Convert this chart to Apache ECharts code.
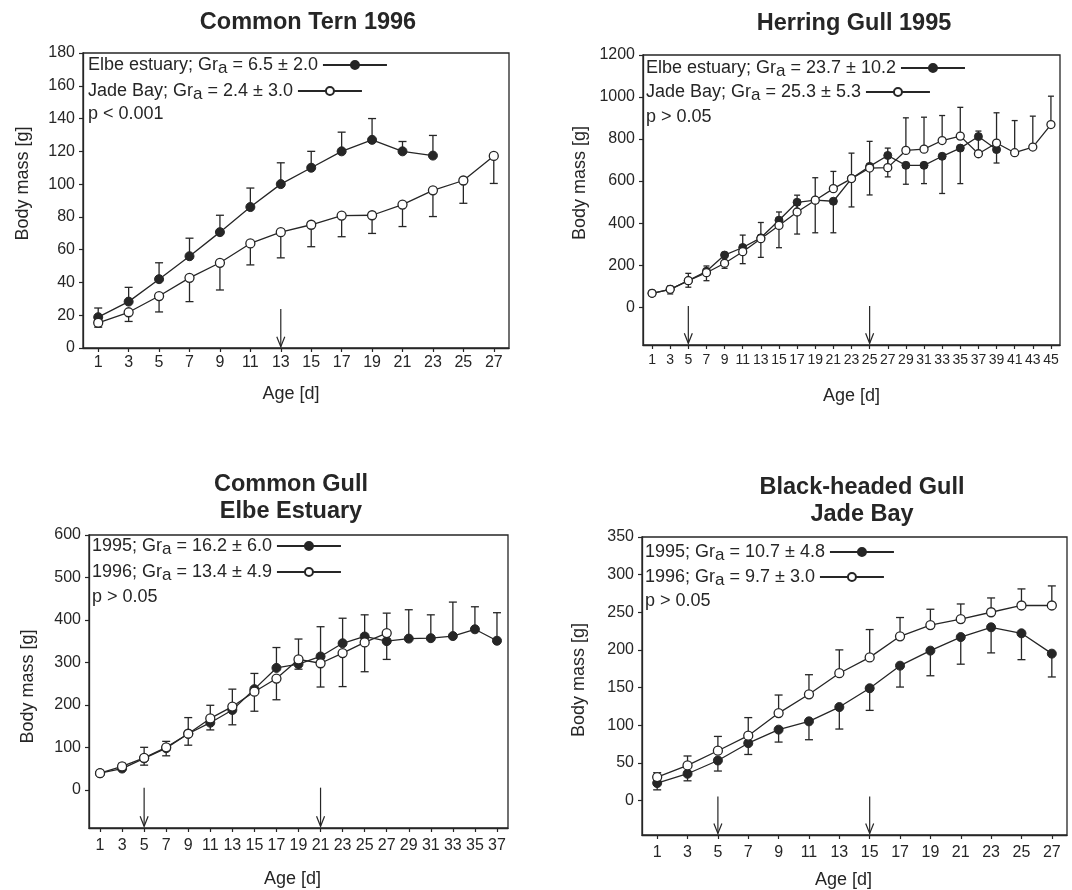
<!DOCTYPE html>
<html><head><meta charset="utf-8">
<script src="https://cdn.jsdelivr.net/npm/echarts@6/dist/echarts.min.js"></script>
<style>html,body{margin:0;padding:0;background:#fff}#c{width:1072px;height:890px}</style>
</head><body><div id="c"></div>
<script>
// ---------------- DATA ----------------
// Panel 1: Common Tern 1996
const ternTitle = 'Common Tern 1996';
const ternTicks = [1,3,5,7,9,11,13,15,17,19,21,23,25,27];
const ternYTicks = [0,20,40,60,80,100,120,140,160,180];
const ternElbeDays = [1,3,5,7,9,11,13,15,17,19,21,23];
const ternElbe   = [18.8,28.3,42,56,70.7,86,100,110,120,127,120,117.4];
const ternElbeHi = [24.4,37,52,67,81,97.6,113,120,131.7,140,126,129.7];
const ternJadeDays = [1,3,5,7,9,11,13,15,17,19,21,23,25,27];
const ternJade   = [15.4,21.8,31.7,42.8,52,63.8,70.7,75.2,80.8,81,87.5,96.2,102.2,117.2];
const ternJadeLo = [12.7,16.2,22,28.3,35.4,50.7,55,61.8,67.9,69.9,74.1,80.2,88.3,100.4];
const ternArrowDays = [13];
const ternArrowFrom = [23.8];
const ternArrowTo = [0.8];
const ternLegend = [['Elbe estuary; Gr', 'a', ' = 6.5 ± 2.0'], ['Jade Bay; Gr', 'a', ' = 2.4 ± 3.0']];
const ternP = 'p < 0.001';

// Panel 2: Herring Gull 1995
const herrTitle = 'Herring Gull 1995';
const herrTicks = [1,3,5,7,9,11,13,15,17,19,21,23,25,27,29,31,33,35,37,39,41,43,45];
const herrYTicks = [0,200,400,600,800,1000,1200];
const herrElbeDays = [1,3,5,7,9,11,13,15,17,19,21,23,25,27,29,31,33,35,37,39];
const herrElbe   = [66,85,126,171,248,284,330,414,499,509,504,612,670,722,675,675,718,757,812,750];
const herrElbeLo = [null,63,95,126,185,207,237,283,348,354,354,477,534,620,585,588,541,588,null,686];
const herrJadeDays = [1,3,5,7,9,11,13,15,17,19,21,23,25,27,29,31,33,35,37,39,41,43,45];
const herrJade   = [66,85,126,164,209,264,326,389,453,509,564,612,662,664,746,752,793,814,730,781,735,762,869];
const herrJadeHi = [null,101,161,196,null,343,403,453,533,616,646,733,789,757,901,904,912,951,838,925,888,909,1004];
const herrArrowDays = [5,25];
const herrArrowFrom = [6,6];
const herrArrowTo = [-172,-172];
const herrLegend = [['Elbe estuary; Gr', 'a', ' = 23.7 ± 10.2'], ['Jade Bay; Gr', 'a', ' = 25.3 ± 5.3']];
const herrP = 'p > 0.05';

// Panel 3: Common Gull, Elbe Estuary
const cgTitle = 'Common Gull\nElbe Estuary';
const cgTicks = [1,3,5,7,9,11,13,15,17,19,21,23,25,27,29,31,33,35,37];
const cgYTicks = [0,100,200,300,400,500,600];
const cg95Days = [1,3,5,7,9,11,13,15,17,19,21,23,25,27,29,31,33,35,37];
const cg95   = [39,50,74,98,132,158,188,237,287,296,314,345,361,350,356,357,362,378,351];
const cg95Hi = [null,62,100,114,170,199,237,274,335,355,384,404,412,416,424,412,442,431,417];
const cg96Days = [1,3,5,7,9,11,13,15,17,19,21,23,25,27];
const cg96   = [39,55,75,100,132,168,196,231,262,307,298,322,347,369];
const cg96Lo = [null,48,58,80,105,141,153,185,212,284,242,243,278,307];
const cgArrowDays = [5,21];
const cgArrowFrom = [5,5];
const cgArrowTo = [-86,-86];
const cgLegend = [['1995; Gr', 'a', ' = 16.2 ± 6.0'], ['1996; Gr', 'a', ' = 13.4 ± 4.9']];
const cgP = 'p > 0.05';

// Panel 4: Black-headed Gull, Jade Bay
const bhTitle = 'Black-headed Gull\nJade Bay';
const bhTicks = [1,3,5,7,9,11,13,15,17,19,21,23,25,27];
const bhYTicks = [0,50,100,150,200,250,300,350];
const bh95Days = [1,3,5,7,9,11,13,15,17,19,21,23,25,27];
const bh95   = [23,35.4,53,76,94,105,124,149,179,199,217,230,222,195];
const bh95Lo = [14,26,39,61,77.5,80.6,94.8,119.6,150.6,165.6,181,196,187,164];
const bh96Days = [1,3,5,7,9,11,13,15,17,19,21,23,25,27];
const bh96   = [31,46.5,66,86,116,141,169,190,218,233,241,250,259,259];
const bh96Hi = [36.8,59,85,110,140,167,200,227,243,254,261,269,281,285];
const bhArrowDays = [5,15];
const bhArrowFrom = [5,5];
const bhArrowTo = [-44,-44];
const bhLegend = [['1995; Gr', 'a', ' = 10.7 ± 4.8'], ['1996; Gr', 'a', ' = 9.7 ± 3.0']];
const bhP = 'p > 0.05';

const xName = 'Age [d]';
const yName = 'Body mass [g]';

// ---------------- STYLE / LAYOUT ----------------
const FONT = '"Liberation Sans", Arial, Helvetica, sans-serif';
const INK = '#262626';

const panels = [
  { key:'tern', title:ternTitle, titleX:308, titleY:23, grid:{left:83, top:53, width:426, height:295},
    xMin:0, xMax:28, yMin:0, yMax:180, xTicks:ternTicks, yTicks:ternYTicks, xFont:16, xMargin:7,
    xGap:37, xPad:[0,10,0,0], yGap:51, yPad:[0,0,0,34], sym:9, cap:4,
    filled:{name:'tern-elbe', days:ternElbeDays, vals:ternElbe, err:ternElbeHi},
    open:{name:'tern-jade', days:ternJadeDays, vals:ternJade, err:ternJadeLo},
    arrows:[ternArrowDays, ternArrowFrom, ternArrowTo],
    legend:ternLegend, legX:88, legY:[68,94], p:ternP, pY:114 },
  { key:'herr', title:herrTitle, titleX:854, titleY:24, grid:{left:643, top:55, width:417, height:290},
    xMin:0, xMax:46, yMin:-180, yMax:1200, xTicks:herrTicks, yTicks:herrYTicks, xFont:14, xMargin:8,
    xGap:42, xPad:[0,0,0,0], yGap:54, yPad:[0,0,0,34], sym:8, cap:3,
    filled:{name:'herr-elbe', days:herrElbeDays, vals:herrElbe, err:herrElbeLo},
    open:{name:'herr-jade', days:herrJadeDays, vals:herrJade, err:herrJadeHi},
    arrows:[herrArrowDays, herrArrowFrom, herrArrowTo],
    legend:herrLegend, legX:646, legY:[71,95], p:herrP, pY:117 },
  { key:'cg', title:cgTitle, titleX:291, titleY:485, grid:{left:89, top:535, width:419, height:293},
    xMin:0, xMax:38, yMin:-90, yMax:600, xTicks:cgTicks, yTicks:cgYTicks, xFont:16, xMargin:10,
    xGap:42, xPad:[0,12,0,0], yGap:52, yPad:[0,10,0,0], sym:9, cap:4,
    filled:{name:'cg-95', days:cg95Days, vals:cg95, err:cg95Hi},
    open:{name:'cg-96', days:cg96Days, vals:cg96, err:cg96Lo},
    arrows:[cgArrowDays, cgArrowFrom, cgArrowTo],
    legend:cgLegend, legX:92, legY:[549,575], p:cgP, pY:597 },
  { key:'bh', title:bhTitle, titleX:862, titleY:488, grid:{left:642, top:537, width:425, height:298},
    xMin:0, xMax:28, yMin:-46, yMax:350, xTicks:bhTicks, yTicks:bhYTicks, xFont:16, xMargin:10,
    xGap:36, xPad:[0,22,0,0], yGap:54, yPad:[0,0,0,12], sym:9, cap:4,
    filled:{name:'bh-95', days:bh95Days, vals:bh95, err:bh95Lo},
    open:{name:'bh-96', days:bh96Days, vals:bh96, err:bh96Hi},
    arrows:[bhArrowDays, bhArrowFrom, bhArrowTo],
    legend:bhLegend, legX:645, legY:[555,580], p:bhP, pY:601 }
];

// ---------------- BUILD ----------------
function pts(days, vals){ return vals.map((v,i)=>[days[i], v]); }
function errs(days, vals, ends){
  const out = [];
  ends.forEach((e,i)=>{ if(e!==null && e!==undefined) out.push([days[i], vals[i], e]); });
  return out;
}
function makeErrRender(cap){
  return function(params, api){
    const x = api.value(0);
    const p0 = api.coord([x, api.value(1)]);
    const p1 = api.coord([x, api.value(2)]);
    const st = {stroke:INK, lineWidth:1.3};
    return {type:'group', children:[
      {type:'line', shape:{x1:p0[0], y1:p0[1], x2:p1[0], y2:p1[1]}, style:st},
      {type:'line', shape:{x1:p1[0]-cap, y1:p1[1], x2:p1[0]+cap, y2:p1[1]}, style:st}
    ]};
  };
}
function renderArrow(params, api){
  const x = api.value(0);
  const a = api.coord([x, api.value(1)]);
  const b = api.coord([x, api.value(2)]);
  const st = {stroke:INK, lineWidth:1.2, fill:null};
  return {type:'group', children:[
    {type:'line', shape:{x1:a[0], y1:a[1], x2:b[0], y2:b[1]}, style:st},
    {type:'polyline', shape:{points:[[b[0]-4, b[1]-10],[b[0], b[1]],[b[0]+4, b[1]-10]]}, style:st}
  ]};
}
const plainNum = v => String(v);

const legendText = {};
const grids = [], xAxes = [], yAxes = [], series = [], legends = [], graphics = [];

panels.forEach((P, gi) => {
  grids.push(Object.assign({show:true, borderColor:INK, borderWidth:1.3, backgroundColor:'transparent',
    containLabel:false, outerBoundsMode:'none'}, P.grid));
  xAxes.push({
    type:'value', gridIndex:gi, min:P.xMin, max:P.xMax,
    axisLine:{show:true, onZero:false, lineStyle:{color:INK, width:1.3}},
    axisTick:{show:true, inside:false, length:4, customValues:P.xTicks, lineStyle:{color:INK, width:1.2}},
    axisLabel:{show:true, customValues:P.xTicks, formatter:plainNum, color:INK, fontSize:P.xFont, fontFamily:FONT, margin:P.xMargin, hideOverlap:false},
    splitLine:{show:false},
    name:xName, nameLocation:'middle', nameGap:P.xGap, nameMoveOverlap:false,
    nameTextStyle:{color:INK, fontSize:18, fontFamily:FONT, padding:P.xPad}
  });
  yAxes.push({
    type:'value', gridIndex:gi, min:P.yMin, max:P.yMax,
    axisLine:{show:true, onZero:false, lineStyle:{color:INK, width:1.3}},
    axisTick:{show:true, inside:false, length:4, customValues:P.yTicks, lineStyle:{color:INK, width:1.2}},
    axisLabel:{show:true, customValues:P.yTicks, formatter:plainNum, color:INK, fontSize:16, fontFamily:FONT, margin:8, hideOverlap:false},
    splitLine:{show:false},
    name:yName, nameLocation:'middle', nameGap:P.yGap, nameMoveOverlap:false,
    nameTextStyle:{color:INK, fontSize:18, fontFamily:FONT, padding:P.yPad}
  });
  const errRender = makeErrRender(P.cap);
  [P.filled, P.open].forEach(S => {
    series.push({type:'custom', xAxisIndex:gi, yAxisIndex:gi, renderItem:errRender, clip:false, z:1,
      encode:{x:0, y:[1,2]}, data:errs(S.days, S.vals, S.err), silent:true});
  });
  const A = P.arrows;
  series.push({type:'custom', xAxisIndex:gi, yAxisIndex:gi, renderItem:renderArrow, clip:false, z:1,
    encode:{x:0, y:[1,2]}, data:A[0].map((d,i)=>[d, A[1][i], A[2][i]]), silent:true});
  series.push({type:'line', name:P.filled.name, xAxisIndex:gi, yAxisIndex:gi, z:3,
    data:pts(P.filled.days, P.filled.vals), symbol:'circle', symbolSize:P.sym, showAllSymbol:true,
    lineStyle:{color:INK, width:1.3}, itemStyle:{color:INK, borderColor:INK, borderWidth:1}, animation:false, silent:true});
  series.push({type:'line', name:P.open.name, xAxisIndex:gi, yAxisIndex:gi, z:4,
    data:pts(P.open.days, P.open.vals), symbol:'circle', symbolSize:P.sym, showAllSymbol:true,
    lineStyle:{color:INK, width:1.3}, itemStyle:{color:'#ffffff', borderColor:INK, borderWidth:1.3}, animation:false, silent:true});
  [P.filled.name, P.open.name].forEach((nm, k) => {
    legendText[nm] = P.legend[k];
    legends.push({
      data:[nm], left:P.legX, top:P.legY[k] - 12, orient:'horizontal', align:'right',
      itemWidth:64, itemHeight:10, padding:0, selectedMode:false, itemGap:0,
      formatter: name => { const L = legendText[name]; return '{t|' + L[0] + '}{s|' + L[1] + '}{t|' + L[2] + '}'; },
      textStyle:{color:INK, fontFamily:FONT, fontSize:18,
        rich:{ t:{color:INK, fontFamily:FONT, fontSize:18}, s:{color:INK, fontFamily:FONT, fontSize:17, padding:[6,0,0,0]} } }
    });
  });
  graphics.push({type:'text', x:P.titleX, y:P.titleY - 13.5, silent:true,
    style:{text:P.title, fill:INK, fontFamily:FONT, fontSize:23.5, fontWeight:'bold', lineHeight:27,
      align:'center', verticalAlign:'top'}});
  graphics.push({type:'text', x:P.legX, y:P.pY, silent:true,
    style:{text:P.p, fill:INK, fontFamily:FONT, fontSize:18, align:'left', verticalAlign:'middle'}});
});

const chart = echarts.init(document.getElementById('c'), null, {renderer:'canvas'});
chart.setOption({
  animation:false,
  backgroundColor:'#ffffff',
  grid:grids, xAxis:xAxes, yAxis:yAxes, series:series, legend:legends,
  graphic:graphics
});
</script>
</body></html>
